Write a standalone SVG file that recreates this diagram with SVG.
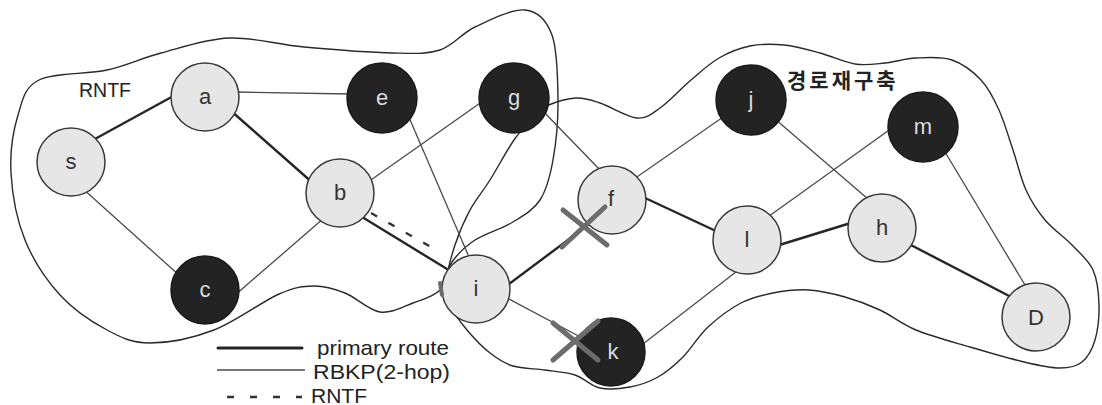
<svg xmlns="http://www.w3.org/2000/svg" width="1102" height="405" viewBox="0 0 1102 405">
<style>
.blob{fill:none;stroke:#2a2a2a;stroke-width:1.4}
.thick{stroke:#262626;stroke-width:2.4;stroke-linecap:round}
.thin{stroke:#4a4a4a;stroke-width:1.3}
.dash{stroke:#333;stroke-width:2.4;stroke-dasharray:7 13}
.light circle{fill:#e6e6e6;stroke:#3a3a3a;stroke-width:1.5}
.dark circle{fill:#232323;stroke:#1a1a1a;stroke-width:1.5}
.lbl{font-family:"Liberation Sans",Arial,sans-serif;font-size:22px;text-anchor:middle}
.light text{fill:#333}
.dark text{fill:#dcdcdc}
.txt{font-family:"Liberation Sans",Arial,sans-serif;fill:#222}
.x{stroke:#6c6c6c;stroke-width:5;stroke-linecap:round}
</style>
<rect width="1102" height="405" fill="#ffffff"/>
<g id="regions">
<path id="region-rntf" class="blob" d="M39,80 C53.8,72.5 86.7,74.5 107,70 C127.3,65.5 140.7,58.3 161,53 C181.3,47.7 205.2,39 229,38 C252.8,37 276.7,44.5 304,47 C331.3,49.5 370.3,52.5 393,53 C415.7,53.5 426.3,54.3 440,50 C453.7,45.7 460.8,33.7 475,27 C489.2,20.3 512.2,8.7 525,10 C537.8,11.3 546.5,20 552,35 C557.5,50 557.8,79.2 558,100 C558.2,120.8 556,143.3 553,160 C550,176.7 546.7,189.7 540,200 C533.3,210.3 523.8,215.3 513,222 C502.2,228.7 485.2,233.3 475,240 C464.8,246.7 457.8,253.7 452,262 C446.2,270.3 446.5,283.2 440,290 C433.5,296.8 423,299.3 413,303 C403,306.7 391.3,313.7 380,312 C368.7,310.3 356,297.3 345,293 C334,288.7 325,285.8 314,286 C303,286.2 295.7,286.7 279,294 C262.3,301.3 235.5,321.8 214,330 C192.5,338.2 167.8,343 150,343 C132.2,343 122,338 107,330 C92,322 73.7,310 60,295 C46.3,280 33.2,260.3 25,240 C16.8,219.7 12.2,193.8 11,173 C9.8,152.2 13.3,130.5 18,115 C22.7,99.5 24.2,87.5 39,80 Z"/>
<path id="region-rebuild" class="blob" d="M546,106 C552.8,103.2 567,98.5 576,98 C585,97.5 589.8,99.7 600,103 C610.2,106.3 627,117.2 637,118 C647,118.8 651,114.3 660,108 C669,101.7 681.2,88.3 691,80 C700.8,71.7 709.2,63.7 719,58 C728.8,52.3 739.2,48.2 750,46 C760.8,43.8 772.3,43.8 784,45 C795.7,46.2 808.2,49.8 820,53 C831.8,56.2 844.2,62.3 855,64 C865.8,65.7 874.8,64 885,63 C895.2,62 904.8,58.5 916,58 C927.2,57.5 941.2,56.3 952,60 C962.8,63.7 973.2,71.7 981,80 C988.8,88.3 993.7,98.3 999,110 C1004.3,121.7 1008.5,136.7 1013,150 C1017.5,163.3 1020.7,178.3 1026,190 C1031.3,201.7 1037.3,210.8 1045,220 C1052.7,229.2 1064,236.7 1072,245 C1080,253.3 1088.5,260 1093,270 C1097.5,280 1098.7,293.3 1099,305 C1099.3,316.7 1097.8,330.5 1095,340 C1092.2,349.5 1087.8,357.3 1082,362 C1076.2,366.7 1069.7,368 1060,368 C1050.3,368 1039,365.5 1024,362 C1009,358.5 988,352.3 970,347 C952,341.7 931,336.2 916,330 C901,323.8 891.8,315.5 880,310 C868.2,304.5 856.8,300.3 845,297 C833.2,293.7 821,290.7 809,290 C797,289.3 784.3,290.8 773,293 C761.7,295.2 751.8,297.3 741,303 C730.2,308.7 717.7,318 708,327 C698.3,336 691.3,348.7 683,357 C674.7,365.3 666.8,372 658,377 C649.2,382 639.7,385.2 630,387 C620.3,388.8 609.2,390 600,388 C590.8,386 584.2,378 575,375 C565.8,372 555.3,371.5 545,370 C534.7,368.5 522.2,368.8 513,366 C503.8,363.2 497.7,359 490,353 C482.3,347 473.7,338 467,330 C460.3,322 453.5,312.8 450,305 C446.5,297.2 445.2,293 446,283 C446.8,273 451,257.2 455,245 C459,232.8 464.2,220.8 470,210 C475.8,199.2 482.7,191.7 490,180 C497.3,168.3 506.5,150.8 514,140 C521.5,129.2 529.7,120.7 535,115 C540.3,109.3 539.2,108.8 546,106 Z"/>
<text class="txt" x="79" y="97" font-size="19.5">RNTF</text>
<text class="txt" x="787" y="88" font-size="21" font-weight="bold" letter-spacing="3" style="font-family:'Noto Sans CJK KR','Noto Sans CJK SC',sans-serif">경로재구축</text>
</g>
<g id="connectors">
<line class="thick" x1="94" y1="139.5" x2="177" y2="94"/>
<line class="thick" x1="230" y1="110" x2="314" y2="184"/>
<line class="thick" x1="358" y1="214.5" x2="456" y2="274.5"/>
<line class="thick" x1="505" y1="287" x2="592" y2="222"/>
<line class="thick" x1="643" y1="197" x2="718" y2="232"/>
<line class="thick" x1="776" y1="246" x2="854" y2="222"/>
<line class="thick" x1="907" y1="243" x2="1015" y2="299"/>
<line class="thin" x1="236" y1="92" x2="350" y2="94"/>
<line class="thin" x1="82" y1="188" x2="180" y2="276"/>
<line class="thin" x1="234" y1="296" x2="324" y2="218"/>
<line class="thin" x1="368" y1="182" x2="483" y2="101"/>
<line class="thin" x1="405" y1="108" x2="469" y2="257"/>
<line class="thin" x1="540" y1="108" x2="602" y2="172"/>
<line class="thin" x1="634" y1="179" x2="726" y2="115"/>
<line class="thin" x1="775" y1="119" x2="868" y2="199"/>
<line class="thin" x1="765" y1="219" x2="892" y2="128"/>
<line class="thin" x1="945" y1="152" x2="1028" y2="290"/>
<line class="thin" x1="741" y1="268" x2="643" y2="344"/>
<line class="thin" x1="505" y1="297" x2="586" y2="340"/>
<line class="dash" x1="371" y1="213" x2="438" y2="251"/>
</g>
<g id="node-s" class="light"><circle cx="71" cy="162" r="34"/><text class="lbl" x="71" y="169">s</text></g>
<g id="node-a" class="light"><circle cx="205" cy="97" r="34"/><text class="lbl" x="205" y="104">a</text></g>
<g id="node-e" class="dark"><circle cx="382" cy="98" r="35"/><text class="lbl" x="382" y="105">e</text></g>
<g id="node-g" class="dark"><circle cx="514" cy="98" r="35"/><text class="lbl" x="514" y="105">g</text></g>
<g id="node-b" class="light"><circle cx="340" cy="193" r="34"/><text class="lbl" x="340" y="200">b</text></g>
<g id="node-c" class="dark"><circle cx="205" cy="290" r="34"/><text class="lbl" x="205" y="297">c</text></g>
<g id="node-i" class="light"><circle cx="476" cy="289" r="34"/><text class="lbl" x="476" y="296">i</text></g>
<g id="node-f" class="light"><circle cx="612" cy="200" r="34"/><text class="lbl" x="611" y="206">f</text></g>
<g id="node-j" class="dark"><circle cx="751" cy="100" r="35"/><text class="lbl" x="751" y="107">j</text></g>
<g id="node-m" class="dark"><circle cx="923" cy="127" r="35"/><text class="lbl" x="923" y="134">m</text></g>
<g id="node-l" class="light"><circle cx="747" cy="240" r="34"/><text class="lbl" x="747" y="247">l</text></g>
<g id="node-h" class="light"><circle cx="882" cy="228" r="34"/><text class="lbl" x="882" y="235">h</text></g>
<g id="node-D" class="light"><circle cx="1036" cy="317" r="34"/><text class="lbl" x="1036" y="325">D</text></g>
<g id="node-k" class="dark"><circle cx="611" cy="352" r="34"/><text class="lbl" x="613" y="359">k</text></g>
<g id="breaks">
<line class="x" x1="562" y1="247" x2="605" y2="207"/>
<line class="x" x1="563" y1="210" x2="607" y2="245"/>
<line class="x" x1="553" y1="323" x2="598" y2="360"/>
<line class="x" x1="553" y1="360" x2="598" y2="321"/>
<line class="x" x1="440" y1="283" x2="442" y2="295" style="stroke-width:4"/>
</g>
<g id="legend">
<line class="thick" x1="218" y1="348" x2="302" y2="348" style="stroke-width:3"/>
<text class="txt" x="317" y="355" font-size="21" textLength="132" lengthAdjust="spacingAndGlyphs">primary route</text>
<line class="thin" x1="217" y1="370" x2="305" y2="370"/>
<text class="txt" x="313" y="379" font-size="21" textLength="137" lengthAdjust="spacingAndGlyphs">RBKP(2-hop)</text>
<line class="dash" x1="227" y1="397" x2="302" y2="397" style="stroke-dasharray:7 16"/>
<text class="txt" x="311" y="403" font-size="21">RNTF</text>
</g>
</svg>
